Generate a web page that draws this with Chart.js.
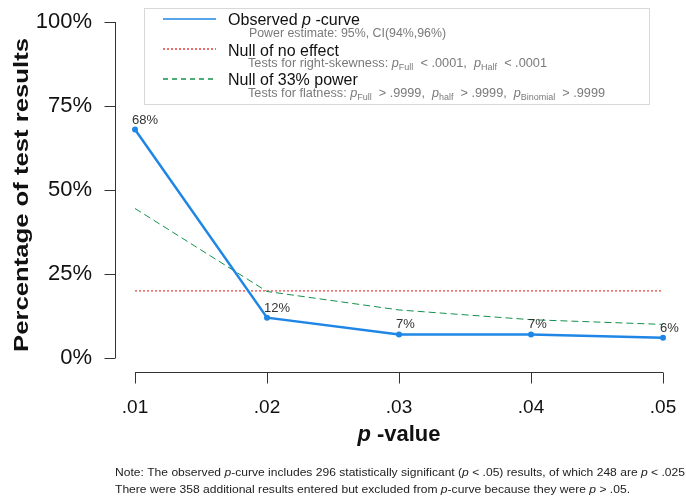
<!DOCTYPE html>
<html>
<head>
<meta charset="utf-8">
<script src="https://cdn.jsdelivr.net/npm/chart.js@4.4.1/dist/chart.umd.min.js"></script>
<style>
  html, body { margin: 0; padding: 0; background: #fff; }
  #wrap { width: 686px; height: 500px; position: relative; }
</style>
</head>
<body>
<div id="wrap"><canvas id="c" width="686" height="500"></canvas></div>
<script>
// p-value bins on the x axis
const pBins = ['.01', '.02', '.03', '.04', '.05'];
// percentage of significant results falling in each bin
const observed = [68, 12, 7, 7, 6];
// expected share under the null of no effect (uniform)
const nullNoEffect = [20, 20, 20, 20, 20];
// expected share under the null of 33% power
const null33 = [44.5, 19.8, 14.3, 11.4, 10.0];
// y axis ticks
const yTicks = [0, 25, 50, 75, 100];

const FONT = '"Liberation Sans", Arial, sans-serif';
const BLUE = '#1f86e6';
const RED = '#e8413c';
const GREEN = '#13914a';

// measure a sequence of text pieces
function runsWidth(ctx, runs) {
  let w = 0;
  for (const r of runs) { ctx.font = r.font; w += ctx.measureText(r.t).width; }
  return w;
}

// draws a sequence of text pieces with individual fonts / offsets,
// optionally stretched horizontally to a given total width
function drawRuns(ctx, x, y, runs, width) {
  const natural = runsWidth(ctx, runs);
  const sx = width ? width / natural : 1;
  ctx.save();
  ctx.translate(x, y);
  ctx.scale(sx, 1);
  let cx = 0;
  for (const r of runs) {
    ctx.font = r.font;
    ctx.fillStyle = r.color;
    ctx.fillText(r.t, cx, r.dy || 0);
    cx += ctx.measureText(r.t).width;
  }
  ctx.restore();
}

const rAxesPlugin = {
  id: 'rAxes',
  afterDraw(chart) {
    const ctx = chart.ctx;
    const ca = chart.chartArea;
    const xs = chart.scales.x, ys = chart.scales.y;
    ctx.save();
    ctx.strokeStyle = '#333';
    ctx.lineWidth = 1;
    ctx.textBaseline = 'alphabetic';
    ctx.textAlign = 'left';

    // detached y axis
    const ax = Math.round(ca.left - 20) + 0.5;
    ctx.beginPath();
    ctx.moveTo(ax, ys.getPixelForValue(0));
    ctx.lineTo(ax, ys.getPixelForValue(100));
    yTicks.forEach(v => {
      const py = Math.round(ys.getPixelForValue(v)) + 0.5;
      ctx.moveTo(ax, py);
      ctx.lineTo(ax - 11, py);
    });
    ctx.stroke();

    // detached x axis
    const ay = Math.round(ca.bottom + 14) + 0.5;
    ctx.beginPath();
    ctx.moveTo(xs.getPixelForValue(0), ay);
    ctx.lineTo(xs.getPixelForValue(pBins.length - 1), ay);
    pBins.forEach((_, i) => {
      const px = Math.round(xs.getPixelForValue(i)) + 0.5;
      ctx.moveTo(px, ay);
      ctx.lineTo(px, ay + 11);
    });
    ctx.stroke();

    // y axis title, rotated
    ctx.save();
    ctx.translate(28, (ca.top + ca.bottom) / 2 + 5);
    ctx.rotate(-Math.PI / 2);
    const yt = [{ t: 'Percentage of test results', font: 'bold 21px ' + FONT, color: '#111' }];
    drawRuns(ctx, -157, 0, yt, 314);
    ctx.restore();

    // x axis title: italic p + "-value"
    const mid = (ca.left + ca.right) / 2;
    const xt = [
      { t: 'p ', font: 'italic bold 22px ' + FONT, color: '#111' },
      { t: '-value', font: 'bold 22px ' + FONT, color: '#111' }
    ];
    drawRuns(ctx, mid - 41.5, 441, xt, 83);

    // note beneath the chart
    const nf = '11px ' + FONT, ni = 'italic 11px ' + FONT, nc = '#222';
    drawRuns(ctx, 115, 476, [
      { t: 'Note: The observed ', font: nf, color: nc },
      { t: 'p', font: ni, color: nc },
      { t: '-curve includes 296 statistically significant (', font: nf, color: nc },
      { t: 'p', font: ni, color: nc },
      { t: ' < .05) results, of which 248 are ', font: nf, color: nc },
      { t: 'p', font: ni, color: nc },
      { t: ' < .025', font: nf, color: nc }
    ], 570);
    drawRuns(ctx, 115, 493, [
      { t: 'There were 358 additional results entered but excluded from ', font: nf, color: nc },
      { t: 'p', font: ni, color: nc },
      { t: '-curve because they were ', font: nf, color: nc },
      { t: 'p', font: ni, color: nc },
      { t: ' > .05.', font: nf, color: nc }
    ], 515);

    // legend box
    ctx.strokeStyle = '#d8d8d8';
    ctx.fillStyle = '#fff';
    ctx.fillRect(144, 8, 505, 96);
    ctx.strokeRect(144.5, 8.5, 505, 96);

    const sample = (y, color, dash) => {
      ctx.save();
      ctx.strokeStyle = color;
      ctx.lineWidth = 1.3;
      ctx.setLineDash(dash);
      ctx.beginPath();
      ctx.moveTo(163, y);
      ctx.lineTo(216, y);
      ctx.stroke();
      ctx.restore();
    };
    sample(19, BLUE, []);
    sample(49, RED, [2, 2]);
    sample(79, GREEN, [5, 4]);

    const big = '16px ' + FONT, bigI = 'italic 16px ' + FONT;
    const sf = '12px ' + FONT, si = 'italic 12px ' + FONT, sub = '8.5px ' + FONT;
    const g = '#7a7a7a';
    drawRuns(ctx, 228, 25, [
      { t: 'Observed ', font: big, color: '#111' },
      { t: 'p', font: bigI, color: '#111' },
      { t: ' -curve', font: big, color: '#111' }
    ], 132);
    drawRuns(ctx, 249, 37, [{ t: 'Power estimate: 95%, CI(94%,96%)', font: sf, color: g }], 197);
    drawRuns(ctx, 228, 56, [{ t: 'Null of no effect', font: big, color: '#111' }]);
    drawRuns(ctx, 248, 67, [
      { t: 'Tests for right-skewness: ', font: sf, color: g },
      { t: 'p', font: si, color: g },
      { t: 'Full', font: sub, color: g, dy: 3 },
      { t: '  < .0001,  ', font: sf, color: g },
      { t: 'p', font: si, color: g },
      { t: 'Half', font: sub, color: g, dy: 3 },
      { t: '  < .0001', font: sf, color: g }
    ], 299);
    drawRuns(ctx, 228, 85, [{ t: 'Null of 33% power', font: big, color: '#111' }]);
    drawRuns(ctx, 248, 97, [
      { t: 'Tests for flatness: ', font: sf, color: g },
      { t: 'p', font: si, color: g },
      { t: 'Full', font: sub, color: g, dy: 3 },
      { t: '  > .9999,  ', font: sf, color: g },
      { t: 'p', font: si, color: g },
      { t: 'half', font: sub, color: g, dy: 3 },
      { t: '  > .9999,  ', font: sf, color: g },
      { t: 'p', font: si, color: g },
      { t: 'Binomial', font: sub, color: g, dy: 3 },
      { t: '  > .9999', font: sf, color: g }
    ], 357);
    ctx.restore();
  },
  afterDatasetsDraw(chart) {
    // percentage labels above the observed curve
    const ctx = chart.ctx;
    const meta = chart.getDatasetMeta(0);
    ctx.save();
    ctx.font = '13px ' + FONT;
    ctx.fillStyle = '#333';
    ctx.textAlign = 'left';
    ctx.textBaseline = 'alphabetic';
    meta.data.forEach((pt, i) => {
      ctx.fillText(observed[i] + '%', pt.x - 3, pt.y - 6);
    });
    ctx.restore();
  }
};

new Chart(document.getElementById('c'), {
  type: 'line',
  data: {
    labels: pBins,
    datasets: [
      {
        label: 'Observed p-curve',
        data: observed,
        borderColor: BLUE,
        backgroundColor: BLUE,
        borderWidth: 2.5,
        pointRadius: 3,
        pointBorderWidth: 0,
        pointBackgroundColor: BLUE,
        tension: 0,
        order: 0
      },
      {
        label: 'Null of no effect',
        data: nullNoEffect,
        borderColor: RED,
        borderWidth: 1.2,
        borderDash: [2, 2],
        pointRadius: 0,
        tension: 0,
        order: 2
      },
      {
        label: 'Null of 33% power',
        data: null33,
        borderColor: GREEN,
        borderWidth: 1,
        borderDash: [7, 4],
        pointRadius: 0,
        tension: 0,
        order: 1
      }
    ]
  },
  options: {
    responsive: false,
    animation: false,
    events: [],
    clip: false,
    layout: { padding: { left: 0, right: 23, top: 22, bottom: 0 } },
    plugins: { legend: { display: false }, tooltip: { enabled: false } },
    scales: {
      x: {
        type: 'category',
        offset: false,
        grid: { display: false, drawTicks: false },
        border: { display: false },
        ticks: { padding: 38, color: '#111', font: { family: FONT, size: 19 }, maxRotation: 0, autoSkip: false },
        afterFit: s => { s.height = 142; s.paddingLeft = 0; s.paddingRight = 0; }
      },
      y: {
        min: 0,
        max: 100,
        grid: { display: false, drawTicks: false },
        border: { display: false },
        afterBuildTicks: s => { s.ticks = yTicks.map(v => ({ value: v })); },
        ticks: { padding: 43, color: '#111', font: { family: FONT, size: 22 }, callback: v => v + '%' },
        afterFit: s => { s.width = 135; s.paddingTop = 0; s.paddingBottom = 0; }
      }
    }
  },
  plugins: [rAxesPlugin]
});
</script>
</body>
</html>
